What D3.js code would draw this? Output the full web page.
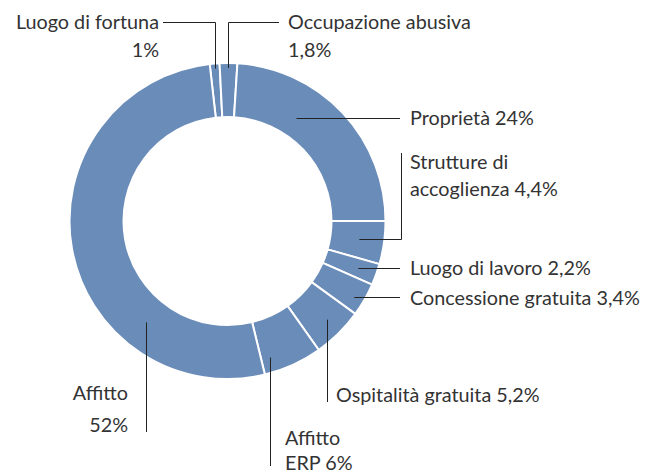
<!DOCTYPE html>
<html>
<head>
<meta charset="utf-8">
<script src="https://cdn.jsdelivr.net/npm/d3@7"></script>
<style>
  html, body { margin: 0; padding: 0; background: #fff; }
  svg { display: block; }
  text { font-family: Lato, "Open Sans", sans-serif; font-size: 19.8px; fill: #333; }
</style>
</head>
<body>
<svg id="chart" width="654" height="473"></svg>
<script>
// Housing situation shares (%), clockwise from the top
const categories = [
  "Luogo di fortuna",
  "Occupazione abusiva",
  "Proprietà",
  "Strutture di accoglienza",
  "Luogo di lavoro",
  "Concessione gratuita",
  "Ospitalità gratuita",
  "Affitto ERP",
  "Affitto"
];
const values = [1, 1.8, 24, 4.4, 2.2, 3.4, 5.2, 6, 52];
const valueLabels = ["1%", "1,8%", "24%", "4,4%", "2,2%", "3,4%", "5,2%", "6%", "52%"];

// Label layout: anchor inside the slice (fraction of slice angle, radius),
// leader route and text lines.
const labelLayout = [
  { t: 0.5,  r: 153, route: "up", to: [22, 163],  text: [["Luogo di fortuna", 22], ["1%", 50]], tx: 159, anchor: "end" },
  { t: 0.5,  r: 153, route: "up", to: [22, 279],  text: [["Occupazione abusiva", 22], ["1,8%", 50]], tx: 288, anchor: "start" },
  { t: 0.35, r: 124, route: "h",  to: [400],      text: [["Proprietà 24%", 118]], tx: 410, anchor: "start" },
  { t: 0.48, r: 133, route: "hv", to: [401, 153], text: [["Strutture di", 162], ["accoglienza 4,4%", 189]], tx: 410, anchor: "start" },
  { t: 0.5,  r: 139, route: "h",  to: [400],      text: [["Luogo di lavoro 2,2%", 268]], tx: 410, anchor: "start" },
  { t: 0.6,  r: 148, route: "h",  to: [400],      text: [["Concessione gratuita 3,4%", 298]], tx: 410, anchor: "start" },
  { t: 0.47, r: 140, route: "v",  to: [402],      text: [["Ospitalità gratuita 5,2%", 395]], tx: 336, anchor: "start" },
  { t: 0.83, r: 143, route: "v",  to: [466],      text: [["Affitto", 438], ["ERP 6%", 463]], tx: 285, anchor: "start" },
  { t: 0.28, r: 130, route: "v",  to: [432],      text: [["Affitto", 393], ["52%", 425]], tx: 128, anchor: "end" }
];

const cx = 227.5, cy = 221, outerR = 158, innerR = 104;
const fill = "#6a8cb9";

const svg = d3.select("#chart");
const g = svg.append("g").attr("transform", `translate(${cx},${cy})`);

// Proprietà ends exactly at 3 o'clock: start angle derived from the first three shares
const startAngle = Math.PI / 2 - (values[0] + values[1] + values[2]) / 100 * 2 * Math.PI;

const pie = d3.pie().sort(null).value(d => d)
  .startAngle(startAngle).endAngle(startAngle + 2 * Math.PI);
const arcs = pie(values);

const arc = d3.arc().innerRadius(innerR).outerRadius(outerR);

g.selectAll("path.slice")
  .data(arcs)
  .join("path")
  .attr("class", "slice")
  .attr("d", arc)
  .attr("fill", fill)
  .attr("stroke", "#fff")
  .attr("stroke-width", 2);

// Leader lines and labels
const lines = svg.append("g").attr("fill", "none").attr("stroke", "#222").attr("stroke-width", 1);
const labels = svg.append("g");

arcs.forEach((a, i) => {
  const L = labelLayout[i];
  const ang = a.startAngle + (a.endAngle - a.startAngle) * L.t;
  const ax = cx + L.r * Math.sin(ang);
  const ay = cy - L.r * Math.cos(ang);
  let pts;
  if (L.route === "up") {
    const x = Math.round(ax) + 0.5;
    pts = [[x, ay], [x, L.to[0] + 0.5], [L.to[1], L.to[0] + 0.5]];
  } else if (L.route === "h") {
    const y = Math.round(ay) + 0.5;
    pts = [[ax, y], [L.to[0], y]];
  } else if (L.route === "hv") {
    const y = Math.round(ay) + 0.5;
    pts = [[ax, y], [L.to[0] + 0.5, y], [L.to[0] + 0.5, L.to[1]]];
  } else {
    const x = Math.round(ax) + 0.5;
    pts = [[x, ay], [x, L.to[0]]];
  }
  lines.append("path").attr("d", d3.line()(pts));
  L.text.forEach(([s, y]) => {
    labels.append("text")
      .attr("x", L.tx).attr("y", y).attr("dy", "0.35em")
      .attr("text-anchor", L.anchor)
      .text(s);
  });
});
</script>
</body>
</html>
